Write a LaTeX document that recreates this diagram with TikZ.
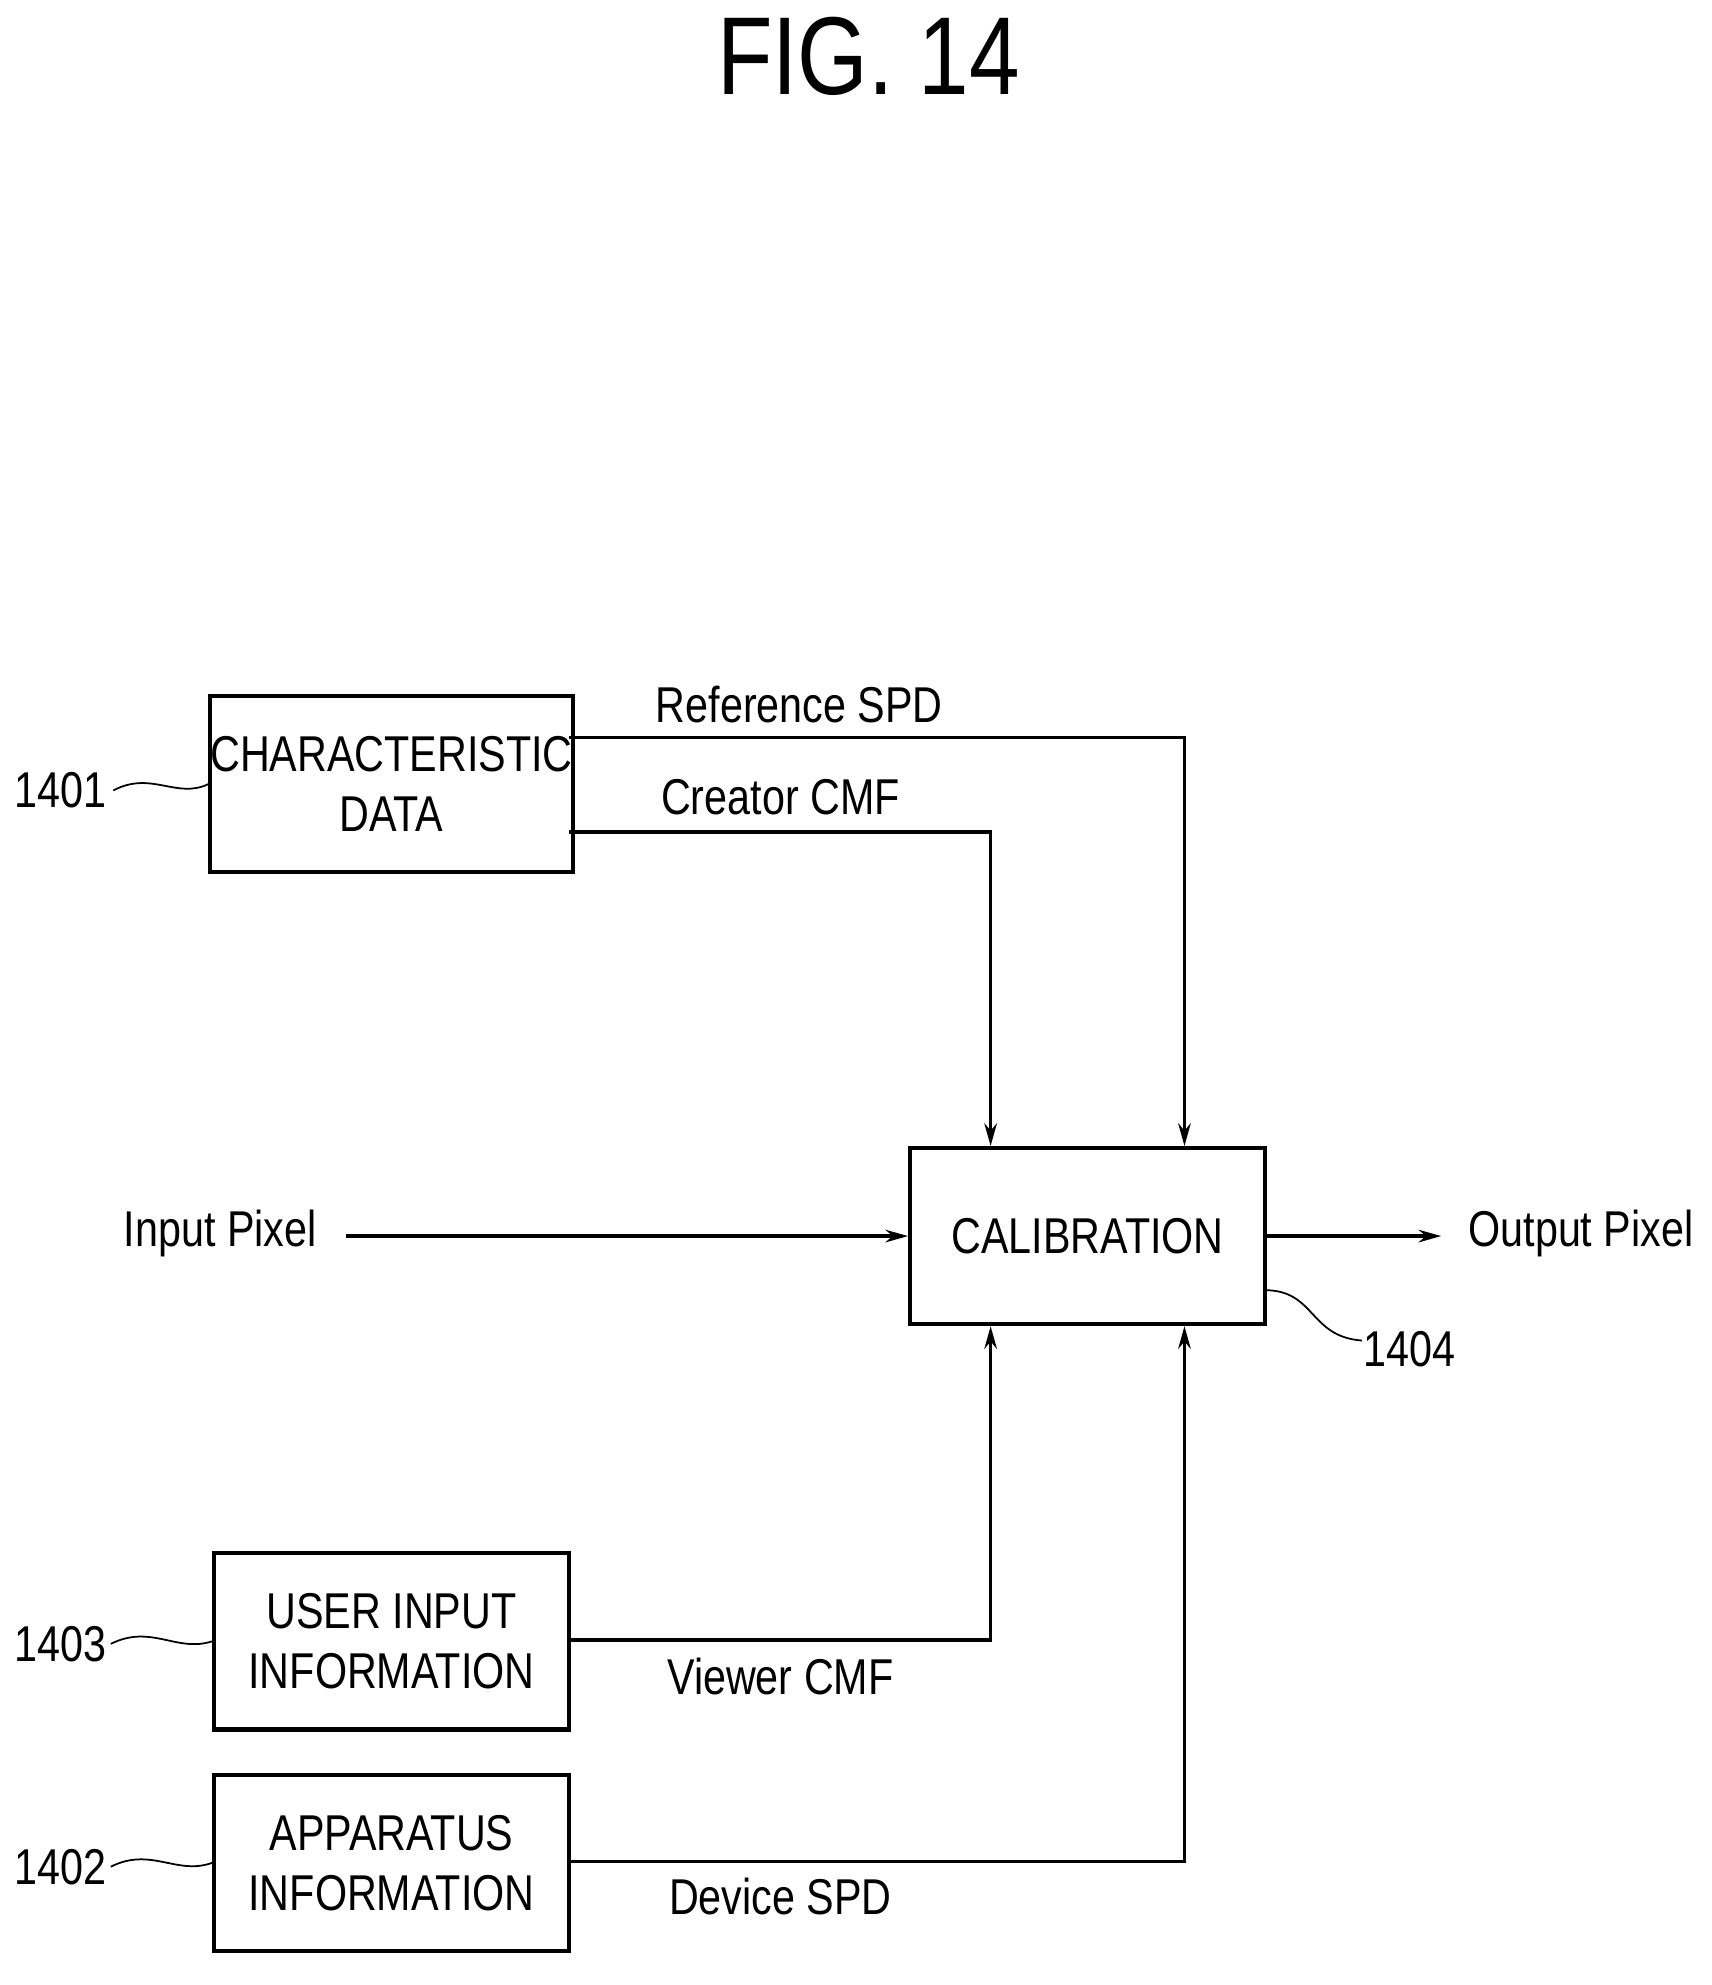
\documentclass[tikz,border=0pt]{standalone}
\usepackage{fontspec}
\setmainfont[FakeStretch=0.82]{Liberation Sans}
\usetikzlibrary{arrows.meta}
\begin{document}
\begin{tikzpicture}[x=0.5pt,y=-0.5pt,
  box/.style={draw,line width=1.6pt,minimum width=141pt,minimum height=70pt,align=center,font=\fontsize{20}{24}\selectfont,inner sep=0pt},
  lab/.style={font=\fontsize{20}{24}\selectfont},
  arr/.style={line width=1.3pt,-{Stealth[length=9pt,width=5pt]}},
  ln/.style={line width=1.3pt},
  sq/.style={line width=0.7pt}]
\useasboundingbox (0,0) rectangle (1360,1577);
\node[font=\fontsize{44}{50}\selectfont] (title) at (690,45) {FIG. 14};
\node[box] (b1) at (311,623) {CHARACTERISTIC\\DATA};
\node[box] (cal) at (864,982) {CALIBRATION};
\node[box] (b3) at (311,1304) {USER INPUT\\INFORMATION};
\node[box] (b2) at (311,1480) {APPARATUS\\INFORMATION};
\coordinate (r1) at (452,586); \coordinate (r2) at (941,586);
\coordinate (c1) at (452,661); \coordinate (c2) at (787,661);
\coordinate (v1) at (452,1303); \coordinate (v2) at (787,1303);
\coordinate (d1) at (452,1479); \coordinate (d2) at (941,1479);
\draw[arr] (r1) -- (r2) -- (cal.north -| r2);
\draw[arr] (c1) -- (c2) -- (cal.north -| c2);
\draw[arr] (v1) -- (v2) -- (cal.south -| v2);
\draw[arr] (d1) -- (d2) -- (cal.south -| d2);
\node[lab] (lr) at (635,560) {Reference SPD};
\node[lab] (lc) at (620,633) {Creator CMF};
\node[lab] (lv) at (620,1332) {Viewer CMF};
\node[lab] (ld) at (620,1507) {Device SPD};
\node[lab] (in) at (175,980) {Input Pixel};
\node[lab] (out) at (1256,980) {Output Pixel};
\coordinate (ins) at (275,982);
\coordinate (oute) at (1145,982);
\draw[arr] (ins) -- (cal.west);
\draw[arr] (cal.east) -- (oute);
\node[lab] (n1) at (48,628) {1401};
\node[lab] (n3) at (48,1306) {1403};
\node[lab] (n2) at (48,1483) {1402};
\node[lab] (n4) at (1120,1072) {1404};
\draw[sq] (90,628) .. controls (120,612) and (140,635) .. (b1.west);
\draw[sq] (88,1306) .. controls (120,1290) and (140,1313) .. (b3.west);
\draw[sq] (88,1483) .. controls (120,1467) and (140,1490) .. (b2.west);
\draw[sq] (1005,1025) .. controls (1045,1025) and (1040,1062) .. (1082,1065);
\end{tikzpicture}
\end{document}
